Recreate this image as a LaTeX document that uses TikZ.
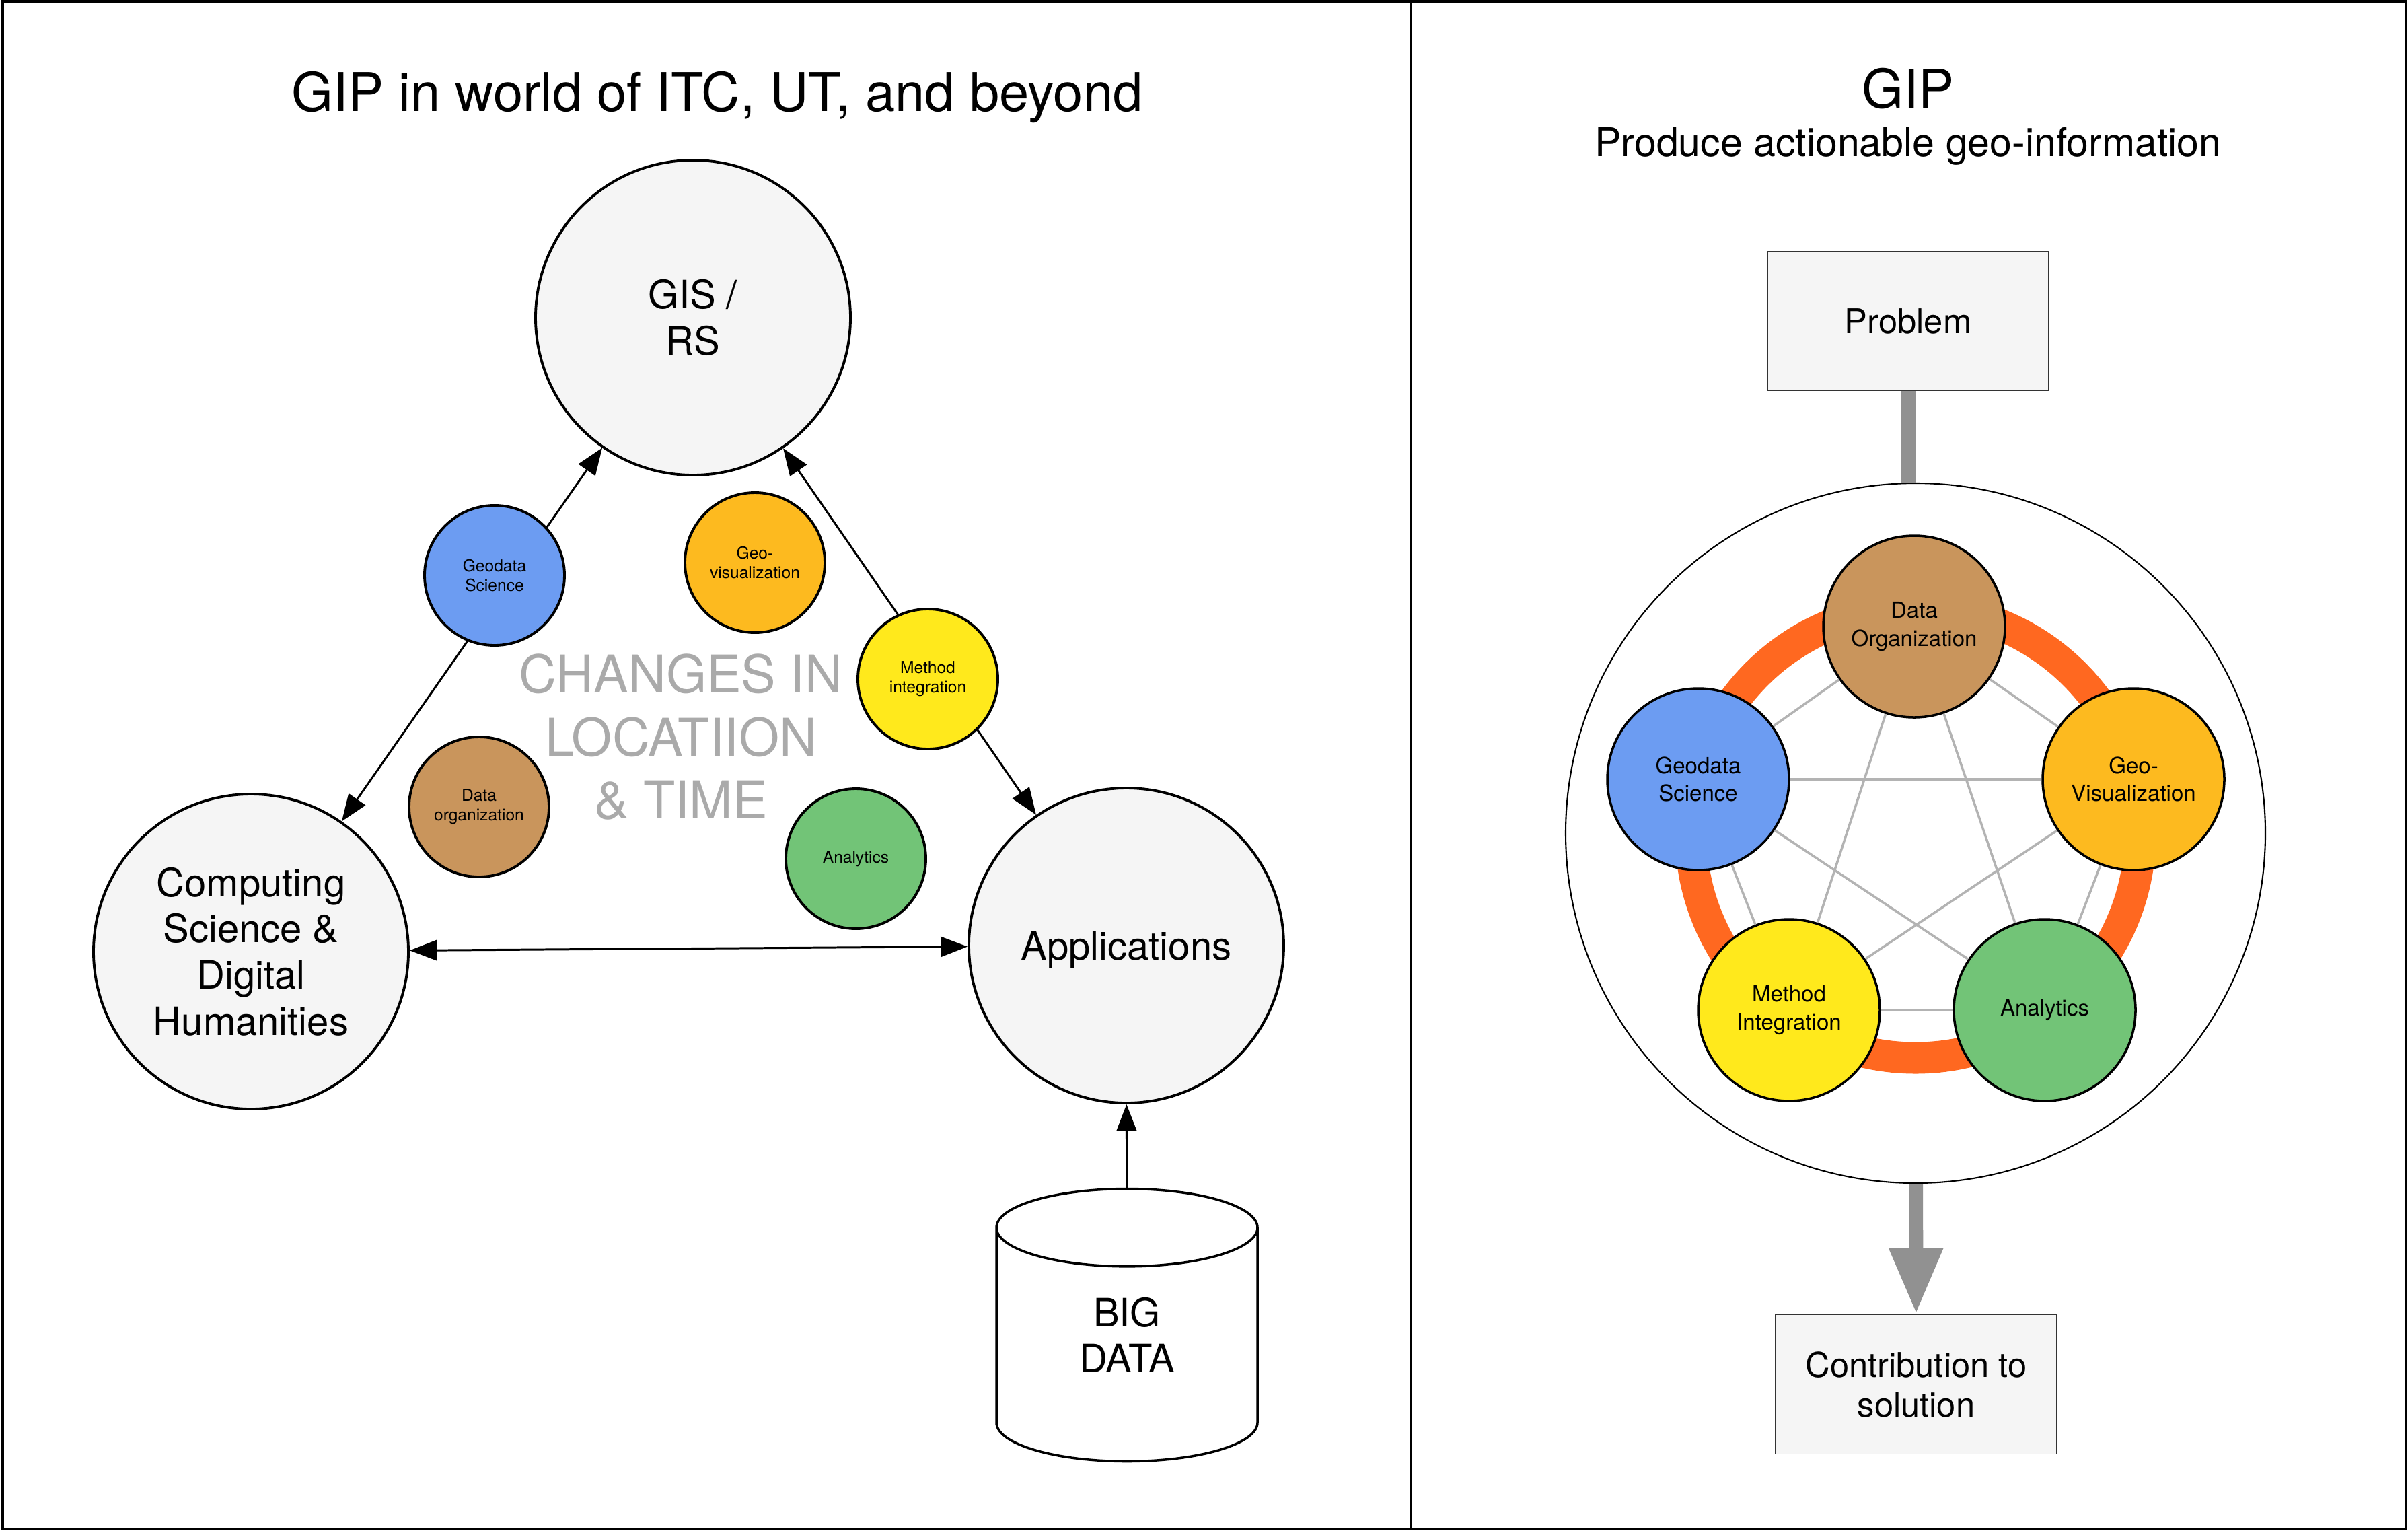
\documentclass[tikz,border=0pt]{standalone}
\usepackage{fontspec}
\setmainfont{TeX Gyre Heros}
\usetikzlibrary{arrows.meta,shapes.geometric}

\definecolor{lightbg}{HTML}{F5F5F5}
\definecolor{gdsblue}{HTML}{6C9CF2}
\definecolor{visorange}{HTML}{FDBA1F}
\definecolor{miyellow}{HTML}{FFE91C}
\definecolor{anagreen}{HTML}{72C477}
\definecolor{dobrown}{HTML}{C9955C}
\definecolor{ringorange}{HTML}{FF6820}
\definecolor{linkgray}{HTML}{B3B3B3}
\definecolor{flowgray}{HTML}{919191}
\definecolor{notegray}{HTML}{AAAAAA}

\tikzset{
    title/.style={font=\fontsize{22.6}{27}\selectfont},
    subtitle/.style={font=\fontsize{16.8}{20}\selectfont},
    bigtext/.style={align=center, font=\fontsize{16.5}{19.5}\selectfont},
    bigcirc/.style={circle, draw, line width=1.1pt, fill=lightbg, minimum size=4.68cm, inner sep=0pt, bigtext},
    minicirc/.style={circle, draw, line width=1.1pt, minimum size=2.08cm, inner sep=0pt, align=center, font=\fontsize{7}{8.3}\selectfont},
    topic/.style={circle, draw, line width=1pt, minimum size=2.7cm, inner sep=0pt, align=center, font=\fontsize{9.4}{11.8}\selectfont},
    box/.style={rectangle, draw=black!80, line width=0.5pt, fill=lightbg, minimum width=4.18cm, minimum height=2.07cm, align=center, font=\fontsize{14.4}{16.8}\selectfont},
    note/.style={text=notegray, align=center, font=\fontsize{22}{26.7}\selectfont},
    arr/.style={-{Triangle[length=0.4cm,width=0.3cm]}, line width=0.85pt},
    dblarr/.style={{Triangle[length=0.4cm,width=0.3cm]}-{Triangle[length=0.4cm,width=0.3cm]}, line width=0.85pt},
    link/.style={linkgray, line width=1pt},
    flow/.style={flowgray, line width=0.21cm}
}

\begin{document}
\begin{tikzpicture}
    \useasboundingbox (0,0) rectangle (35.79,-22.74);
    % frame
    \draw[line width=0.04cm] (0.04,-0.02) rectangle (35.76,-22.72);
    \draw[line width=0.035cm] (20.965,0) -- (20.965,-22.74);

    % left panel
    \node[title] (ltitle) at (10.66,-1.44) {GIP in world of ITC, UT, and beyond};
    \node[bigcirc] (gis) at (10.30,-4.72) {GIS /\\RS};
    \node[bigcirc] (csdh) at (3.73,-14.14) {Computing\\Science \&\\Digital\\Humanities};
    \node[bigcirc, text depth=0pt] (apps) at (16.74,-14.05) {Applications};
    \node[cylinder, shape border rotate=90, aspect=0.7, draw, line width=1pt, minimum width=3.88cm, minimum height=4.05cm, anchor=shape center, text depth=0.5cm, bigtext] (bigdata) at (16.75,-19.69) {BIG\\DATA};
    \node[note] (changes) at (10.12,-10.95) {CHANGES IN\\LOCATIION\\\& TIME};

    \draw[dblarr] (csdh) -- (gis);
    \draw[dblarr] (gis) -- (apps);
    \draw[dblarr] (csdh) -- (apps);
    \draw[arr] (bigdata) -- (apps);

    \node[minicirc, fill=gdsblue] (gds) at (7.35,-8.55) {Geodata\\Science};
    \node[minicirc, fill=visorange] (gvis) at (11.22,-8.36) {Geo-\\visualization};
    \node[minicirc, fill=miyellow] (mint) at (13.79,-10.09) {Method\\integration};
    \node[minicirc, fill=dobrown] (dorg) at (7.12,-11.99) {Data\\organization};
    \node[minicirc, fill=anagreen] (ana) at (12.72,-12.76) {Analytics};

    % right panel
    \node[title] (rtitle) at (28.36,-1.32) {GIP};
    \node[subtitle] (rsub) at (28.36,-2.17) {Produce actionable geo-information};
    \node[box] (prob) at (28.36,-4.77) {Problem};
    \node[circle, draw, line width=0.6pt, minimum size=10.4cm] (core) at (28.47,-12.38) {};
    \draw[ringorange, line width=0.47cm] (core.center) circle (3.34);

    \node[topic, fill=dobrown] (rdorg) at (28.45,-9.31) {Data\\Organization};
    \node[topic, fill=gdsblue] (rgds) at (25.24,-11.58) {Geodata\\Science};
    \node[topic, fill=visorange] (rgvis) at (31.71,-11.58) {Geo-\\Visualization};
    \node[topic, fill=miyellow] (rmint) at (26.59,-15.01) {Method\\Integration};
    \node[topic, fill=anagreen] (rana) at (30.39,-15.01) {Analytics};
    \foreach \a/\b in {rdorg/rgds, rdorg/rgvis, rdorg/rmint, rdorg/rana, rgds/rgvis,
                       rgds/rmint, rgds/rana, rgvis/rmint, rgvis/rana, rmint/rana}
        \draw[link] (\a) -- (\b);

    \node[box] (sol) at (28.48,-20.57) {Contribution to\\solution};
    \draw[flow] (prob) -- (prob |- core.north);
    \draw[flow, -{Triangle[length=0.98cm,width=0.75cm]}] (core) -- (sol);
\end{tikzpicture}
\end{document}
